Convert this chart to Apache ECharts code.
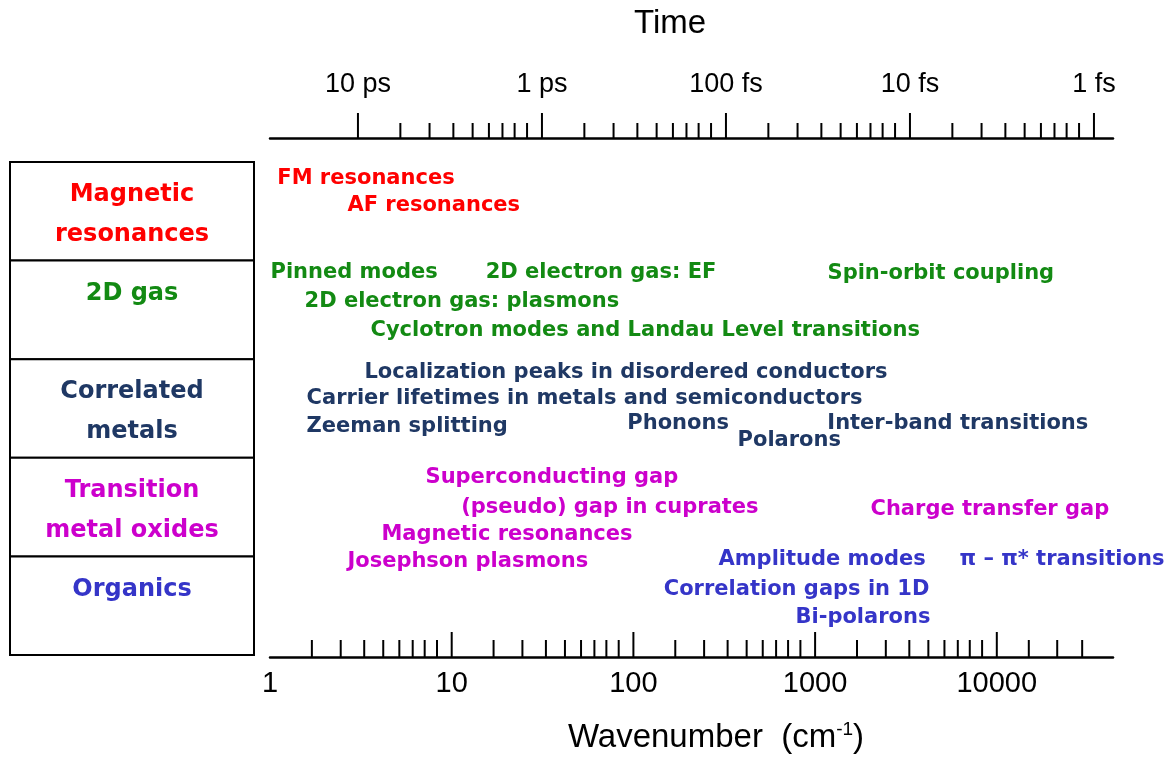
<!DOCTYPE html>
<html><head><meta charset="utf-8">
<script src="https://cdn.jsdelivr.net/npm/echarts@6/dist/echarts.min.js"></script>
<style>html,body{margin:0;padding:0;background:#fff}#c{width:1175px;height:760px}</style>
</head><body><div id="c"></div>
<script>
// ---- data ----
const categories = ['Magnetic\nresonances', '2D gas', 'Correlated\nmetals', 'Transition\nmetal oxides', 'Organics'];
const categoryColors = ['#FF0000', '#138A13', '#1F3864', '#CC00CC', '#3535C8'];

const labelTexts = [
  'FM resonances', 'AF resonances',
  'Pinned modes', '2D electron gas: EF', 'Spin-orbit coupling', '2D electron gas: plasmons', 'Cyclotron modes and Landau Level transitions',
  'Localization peaks in disordered conductors', 'Carrier lifetimes in metals and semiconductors', 'Zeeman splitting', 'Phonons', 'Polarons', 'Inter-band transitions',
  'Superconducting gap', '(pseudo) gap in cuprates', 'Charge transfer gap', 'Magnetic resonances', 'Josephson plasmons',
  'Amplitude modes', 'π – π* transitions', 'Correlation gaps in 1D', 'Bi-polarons'
];
// wavenumber (cm-1) where each label starts
const labelWavenumbers = [
  1.09, 2.65,
  1.0, 15.3, 1163, 1.54, 3.55,
  3.29, 1.58, 1.58, 92, 372, 1160,
  7.13, 11.2, 2005, 4.08, 2.65,
  292, 6190, 146, 775
];
// vertical position in table-row units (0 = top of first row, 5 = bottom of last)
const labelRows = [
  0.172, 0.446,
  1.12, 1.12, 1.13, 1.42, 1.714,
  2.135, 2.404, 2.688, 2.657, 2.82, 2.657,
  3.205, 3.50, 3.52, 3.78, 4.057,
  4.036, 4.036, 4.34, 4.625
];
const labelGroups = [
  0, 0,
  1, 1, 1, 1, 1,
  2, 2, 2, 2, 2, 2,
  3, 3, 3, 3, 3,
  4, 4, 4, 4
];

const wavenumberLabelTicks = [1, 10, 100, 1000, 10000];
const wavenumberTickLabels = ['1', '10', '100', '1000', '10000'];
const wavenumberMajorTicks = [10, 100, 1000, 10000];
const wavenumberMinorTicks = [
  1.7, 2.45, 3.3, 4.2, 5.15, 6.1, 7.1, 8.3,
  17, 24.5, 33, 42, 51.5, 61, 71, 83,
  170, 245, 330, 420, 515, 610, 710, 830,
  1700, 2450, 3300, 4200, 5150, 6100, 7100, 8300,
  15000, 21500, 29500
];

// time axis, in femtoseconds
const timeMajorTicks = [10000, 1000, 100, 10, 1];
const timeTickLabels = ['10 ps', '1 ps', '100 fs', '10 fs', '1 fs'];
const timeMinorTicks = [
  5882, 4082, 3030, 2381, 1942, 1639, 1408, 1205,
  588.2, 408.2, 303.0, 238.1, 194.2, 163.9, 140.8, 120.5,
  58.82, 40.82, 30.30, 23.81, 19.42, 16.39, 14.08, 12.05,
  5.882, 4.082, 3.030, 2.381, 1.942, 1.639, 1.408, 1.205
];

// ---- chart ----
const chart = echarts.init(document.getElementById('c'), null, {renderer: 'canvas'});

function labelFor(ticks, labels) {
  return function (v) {
    const lv = Math.log10(v);
    for (let i = 0; i < ticks.length; i++) {
      if (Math.abs(Math.log10(ticks[i]) - lv) < 1e-4) return labels[i];
    }
    return '';
  };
}

const BOTTOM_OFFSET = 2, TOP_OFFSET = 24;
function tickRenderer(side, len) {
  return function (params, api) {
    const x = api.coord([api.value(0), api.value(1)])[0];
    const cs = params.coordSys;
    const base = side === 'bottom' ? cs.y + cs.height + BOTTOM_OFFSET : cs.y - TOP_OFFSET;
    return {
      type: 'line',
      shape: {x1: x, y1: base, x2: x, y2: base - len},
      style: {stroke: '#000', lineWidth: 2}
    };
  };
}

function tableRenderer(params, api) {
  const i = api.value(0);
  const p0 = api.coord([0, i]);
  const p1 = api.coord([1, i + 1]);
  return {
    type: 'group',
    children: [
      {type: 'rect', shape: {x: p0[0], y: p0[1], width: p1[0] - p0[0], height: p1[1] - p0[1]},
       style: {fill: '#fff', stroke: '#000', lineWidth: 2}},
      {type: 'text', x: (p0[0] + p1[0]) / 2, y: p0[1] + 13,
       style: {text: categories[i], fill: categoryColors[i], fontFamily: 'DejaVu Sans', fontWeight: 'bold',
               fontSize: 24, lineHeight: 40, align: 'center', verticalAlign: 'top'}}
    ]
  };
}

const labelFont = {fontFamily: 'DejaVu Sans', fontWeight: 'bold', fontSize: 21};

const option = {
  animation: false,
  backgroundColor: '#fff',
  textStyle: {fontFamily: 'Liberation Sans'},
  title: [
    {text: 'Time', left: 665, top: 2, textAlign: 'center',
     textStyle: {fontFamily: 'Liberation Sans', fontWeight: 'normal', fontSize: 33, color: '#000'}},
    {text: 'Wavenumber  (cm{sup|-1})', left: 711, top: 715, textAlign: 'center',
     textStyle: {fontFamily: 'Liberation Sans', fontWeight: 'normal', fontSize: 33, color: '#000', lineHeight: 36,
       rich: {sup: {fontFamily: 'Liberation Sans', fontSize: 19, color: '#000', verticalAlign: 'top', lineHeight: 36, padding: [0, 0, 12, 0]}}}}
  ],
  grid: [
    {left: 270, top: 162, width: 843, height: 493, outerBoundsMode: 'none', containLabel: false},
    {left: 10, top: 162, width: 244, height: 493, outerBoundsMode: 'none', containLabel: false}
  ],
  xAxis: [
    {gridIndex: 0, type: 'log', min: 1, max: 43600, position: 'bottom', offset: BOTTOM_OFFSET,
     axisLine: {show: true, onZero: false, lineStyle: {color: '#000', width: 2.5}},
     axisTick: {show: false}, minorTick: {show: false}, splitLine: {show: false}, minorSplitLine: {show: false},
     axisLabel: {margin: 12, fontSize: 29, color: '#000', fontFamily: 'Liberation Sans', showMaxLabel: false,
                 formatter: labelFor(wavenumberLabelTicks, wavenumberTickLabels)}},
    {gridIndex: 0, type: 'log', min: 0.788, max: 30060, inverse: true, position: 'top', offset: TOP_OFFSET,
     axisLine: {show: true, onZero: false, lineStyle: {color: '#000', width: 2.5}},
     axisTick: {show: false}, minorTick: {show: false}, splitLine: {show: false}, minorSplitLine: {show: false},
     axisLabel: {margin: 40, fontSize: 27, color: '#000', fontFamily: 'Liberation Sans', showMinLabel: false, showMaxLabel: false,
                 formatter: labelFor(timeMajorTicks, timeTickLabels)}},
    {gridIndex: 1, type: 'value', min: 0, max: 1, show: false}
  ],
  yAxis: [
    {gridIndex: 0, type: 'value', min: 0, max: 5, inverse: true, show: false},
    {gridIndex: 1, type: 'value', min: 0, max: 5, inverse: true, show: false}
  ],
  series: [
    {type: 'custom', xAxisIndex: 2, yAxisIndex: 1, clip: false, silent: true,
     renderItem: tableRenderer, data: categories.map((c, i) => [i])},
    {
      type: 'scatter', xAxisIndex: 0, yAxisIndex: 0, symbol: 'circle', symbolSize: 1, clip: false, silent: true,
      itemStyle: {color: 'rgba(0,0,0,0)', opacity: 1},
      label: Object.assign({show: true, position: 'right', distance: 0, padding: [5, 0, 0, 0], formatter: '{b}'}, labelFont),
      labelLayout: {hideOverlap: false},
      emphasis: {disabled: true},
      data: labelTexts.map((t, i) => ({
        name: t,
        value: [labelWavenumbers[i], labelRows[i]],
        label: {color: categoryColors[labelGroups[i]]}
      }))
    },
    {type: 'custom', xAxisIndex: 0, yAxisIndex: 0, clip: false, silent: true,
     renderItem: tickRenderer('bottom', 25), data: wavenumberMajorTicks.map(v => [v, 5])},
    {type: 'custom', xAxisIndex: 0, yAxisIndex: 0, clip: false, silent: true,
     renderItem: tickRenderer('bottom', 17), data: wavenumberMinorTicks.map(v => [v, 5])},
    {type: 'custom', xAxisIndex: 1, yAxisIndex: 0, clip: false, silent: true,
     renderItem: tickRenderer('top', 25), data: timeMajorTicks.map(v => [v, 0])},
    {type: 'custom', xAxisIndex: 1, yAxisIndex: 0, clip: false, silent: true,
     renderItem: tickRenderer('top', 15), data: timeMinorTicks.map(v => [v, 0])}
  ]
};
chart.setOption(option);
</script>
</body></html>
